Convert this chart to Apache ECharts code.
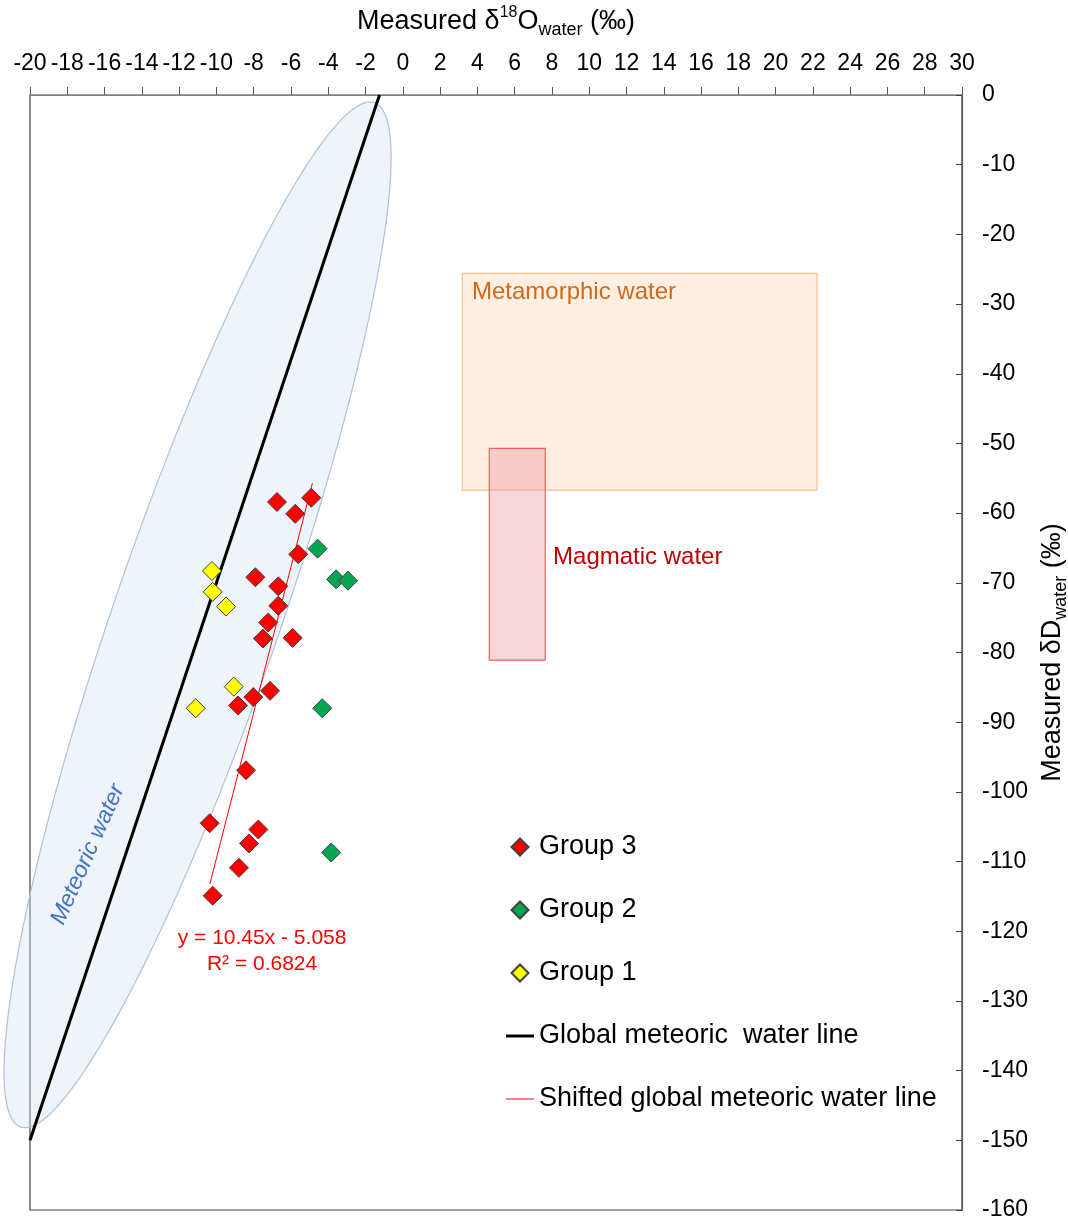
<!DOCTYPE html>
<html>
<head>
<meta charset="utf-8">
<script src="https://cdn.jsdelivr.net/npm/echarts@6/dist/echarts.min.js"></script>
<style>html,body{margin:0;padding:0;background:#fff;}#c{width:1068px;height:1220px;}</style>
</head>
<body>
<div id="c"></div>
<script>
// ---- data ----
const group3 = [
  [-6.75,-58.4],[-4.91,-57.8],[-5.77,-60.1],[-5.61,-65.9],[-7.91,-69.2],
  [-6.68,-70.5],[-6.68,-73.3],[-7.22,-75.7],[-7.50,-78.0],[-5.91,-77.9],
  [-7.12,-85.5],[-8.02,-86.4],[-8.84,-87.6],[-8.41,-96.9],[-10.36,-104.5],
  [-7.75,-105.4],[-8.25,-107.4],[-8.79,-110.9],[-10.20,-114.9]
];
const group2 = [[-4.57,-65.1],[-3.58,-69.5],[-2.94,-69.7],[-4.32,-88.0],[-3.84,-108.7]];
const group1 = [[-10.24,-68.3],[-10.20,-71.3],[-9.48,-73.4],[-9.07,-84.9],[-11.11,-88.0]];
const gmwl = [[-20,-150],[-1.25,0]];
const shiftedLine = [[-10.35,-113.2],[-4.85,-55.7]];
// boxes: [x1, y1, x2, y2]
const metamorphicBox = [[3.19,-25.6,22.22,-56.7]];
const magmaticBox = [[4.64,-50.7,7.64,-81.1]];
// meteoric water ellipse: centre and two conjugate semi-axes (data units)
const ellipseCenter = [-11.01,-74.6];
const ellipseMajor = [9.49,73.5];
const ellipseMinor = [4.21,-3.89];
const annotationTexts = ['Metamorphic water','Magmatic water','Meteoric water','y = 10.45x - 5.058\nR² = 0.6824'];
const annotationPos = [[3.71,-28.3],[8.06,-66.4],[-16.89,-109.0],[-7.55,-122.8]];
const legendNames = ['Group 3','Group 2','Group 1','Global meteoric  water line','Shifted global meteoric water line'];

const FONT = '"Liberation Sans", Arial, sans-serif';
const chart = echarts.init(document.getElementById('c'), null, {renderer:'canvas'});

const annStyles = [
  {fill:'#D0691E', fontSize:24, align:'left', rot:0, italic:false, lh:28},
  {fill:'#C00000', fontSize:24, align:'left', rot:0, italic:false, lh:28},
  {fill:'#4472C4', fontSize:23, align:'center', rot:66*Math.PI/180, italic:true, lh:28},
  {fill:'#FF0000', fontSize:21, align:'center', rot:0, italic:false, lh:26}
];

function boxRender(fill, stroke){
  return function(params, api){
    const p1 = api.coord([api.value(0), api.value(1)]);
    const p2 = api.coord([api.value(2), api.value(3)]);
    return {type:'rect', shape:{x:Math.min(p1[0],p2[0]), y:Math.min(p1[1],p2[1]),
      width:Math.abs(p2[0]-p1[0]), height:Math.abs(p2[1]-p1[1])},
      style:{fill:fill, stroke:stroke, lineWidth:1.2}};
  };
}

const DIAMOND = 'path://M0,-1L1,0L0,1L-1,0Z';
const legendIcons = [DIAMOND, DIAMOND, DIAMOND,
  'path://M0,0L28,0L28,3L0,3Z', 'path://M0,0L28,0L28,1L0,1Z'];

const option = {
  backgroundColor:'#fff',
  animation:false,
  textStyle:{fontFamily:FONT},
  grid:{left:30, right:106, top:95, bottom:10, containLabel:false, outerBoundsMode:'none',
    show:true, borderColor:'#404040', borderWidth:1.2, backgroundColor:'transparent'},
  xAxis:{
    type:'value', position:'top', min:-20, max:30, interval:2,
    name:'{a|Measured δ}{sup|18}{a|O}{sub|water}{a| (‰)}',
    nameLocation:'middle', nameGap:56, nameMoveOverlap:false,
    nameTextStyle:{rich:{
      a:{fontSize:27, fontFamily:FONT, color:'#000', lineHeight:34},
      sup:{fontSize:16, fontFamily:FONT, color:'#000', verticalAlign:'top', lineHeight:22},
      sub:{fontSize:18, fontFamily:FONT, color:'#000', verticalAlign:'bottom', lineHeight:22}
    }},
    axisLine:{show:true, onZero:false, lineStyle:{color:'#7f7f7f', width:1}},
    axisTick:{show:true, inside:false, length:8, lineStyle:{color:'#595959'}},
    axisLabel:{fontSize:23, color:'#000', fontFamily:FONT, margin:20},
    splitLine:{show:false}
  },
  yAxis:{
    type:'value', position:'right', min:-160, max:0, interval:10,
    name:'{a|Measured δD}{sub|water}{a| (‰)}',
    nameLocation:'middle', nameGap:74, nameMoveOverlap:false,
    nameTextStyle:{rich:{
      a:{fontSize:27, fontFamily:FONT, color:'#000', lineHeight:34},
      sub:{fontSize:18, fontFamily:FONT, color:'#000', verticalAlign:'bottom', lineHeight:22}
    }},
    axisLine:{show:true, onZero:false, lineStyle:{color:'#595959', width:1.2}},
    axisTick:{show:true, inside:true, length:6, lineStyle:{color:'#404040'}},
    axisLabel:{fontSize:23, color:'#000', fontFamily:FONT, margin:20, align:'left'},
    splitLine:{show:false}
  },
  legend:{
    orient:'vertical', left:506, top:832, itemGap:33, itemWidth:28, itemHeight:17,
    padding:0,
    data:legendNames.map(function(n,i){return {name:n, icon:legendIcons[i]};}),
    textStyle:{fontSize:27, color:'#000', fontFamily:FONT, lineHeight:30}
  },
  series:[
    {
      type:'custom', name:'Meteoric ellipse', z:1, clip:false, silent:true,
      data:[[ellipseCenter[0], ellipseCenter[1]]],
      renderItem:function(params, api){
        const pts = [];
        for(let i=0;i<=180;i++){
          const t = i/180*Math.PI*2;
          const c = Math.cos(t), s = Math.sin(t);
          pts.push(api.coord([
            ellipseCenter[0] + ellipseMajor[0]*c + ellipseMinor[0]*s,
            ellipseCenter[1] + ellipseMajor[1]*c + ellipseMinor[1]*s
          ]));
        }
        return {type:'polygon', shape:{points:pts},
          style:{fill:'rgba(214,226,242,0.38)', stroke:'#AFC2D8', lineWidth:1.2}};
      }
    },
    {
      type:'custom', name:'Metamorphic water', z:2, silent:true,
      encode:{x:[0,2], y:[1,3]},
      data:metamorphicBox,
      renderItem:boxRender('rgba(253,218,180,0.42)', '#F9BE8E')
    },
    {
      type:'custom', name:'Magmatic water', z:3, silent:true,
      encode:{x:[0,2], y:[1,3]},
      data:magmaticBox,
      renderItem:boxRender('rgba(236,150,160,0.38)', '#FF5B5B')
    },
    {
      type:'line', name:'Global meteoric  water line', z:4, data:gmwl,
      symbol:'none', showSymbol:false, lineStyle:{color:'#000', width:3}, itemStyle:{color:'#000'}
    },
    {
      type:'line', name:'Shifted global meteoric water line', z:5, data:shiftedLine,
      symbol:'none', showSymbol:false, lineStyle:{color:'#FF0000', width:1}, itemStyle:{color:'#FF0000'}
    },
    {
      type:'scatter', name:'Group 3', z:6, data:group3, symbol:'diamond', symbolSize:19,
      itemStyle:{color:'#FF0000', borderColor:'#404040', borderWidth:1, opacity:1}
    },
    {
      type:'scatter', name:'Group 2', z:6, data:group2, symbol:'diamond', symbolSize:19,
      itemStyle:{color:'#00A651', borderColor:'#404040', borderWidth:1, opacity:1}
    },
    {
      type:'scatter', name:'Group 1', z:6, data:group1, symbol:'diamond', symbolSize:19,
      itemStyle:{color:'#FFFF00', borderColor:'#404040', borderWidth:1, opacity:1}
    },
    {
      type:'custom', name:'annotations', z:7, clip:false, silent:true,
      data:annotationPos.map(function(p,i){return [p[0],p[1],i];}),
      renderItem:function(params, api){
        const i = api.value(2);
        const p = api.coord([api.value(0), api.value(1)]);
        const st = annStyles[i];
        return {type:'text', x:p[0], y:p[1], rotation:st.rot,
          style:{text:annotationTexts[i], fill:st.fill, fontSize:st.fontSize,
            fontFamily:FONT, fontStyle:st.italic?'italic':'normal',
            align:st.align, verticalAlign:'middle', lineHeight:st.lh}};
      }
    }
  ]
};
chart.setOption(option);
</script>
</body>
</html>
